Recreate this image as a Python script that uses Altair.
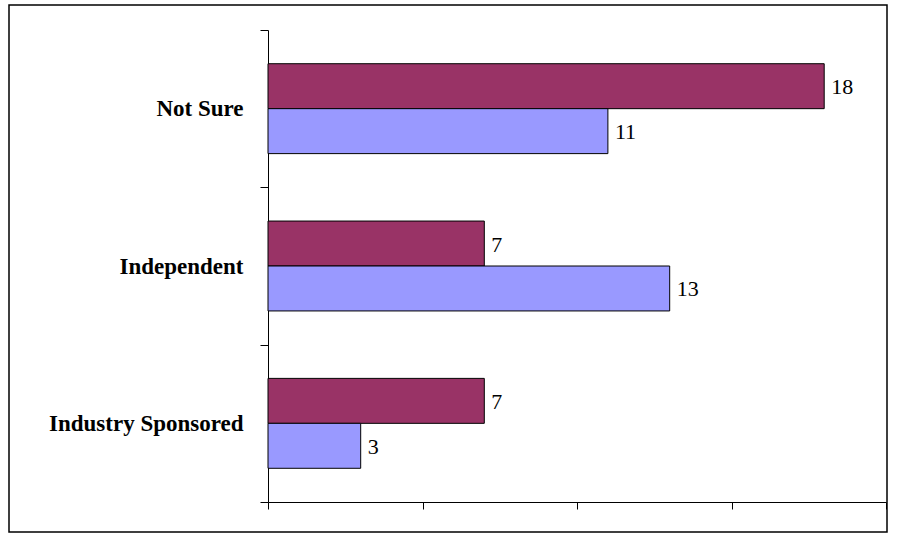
import altair as alt
import pandas as pd

# Response counts per source category, two groups per category
categories = ["Not Sure", "Independent\u00a0", "Industry Sponsored"]
series = ["Group 1", "Group 2"]
group1_counts = [18, 7, 7]
group2_counts = [11, 13, 3]
bar_colors = ["#993366", "#9999FF"]
x_ticks = [0, 5, 10, 15, 20]

rows = []
for cat, a, b in zip(categories, group1_counts, group2_counts):
    rows.append({"category": cat, "series": series[0], "count": a})
    rows.append({"category": cat, "series": series[1], "count": b})
df = pd.DataFrame(rows)

W, H = 618, 472
PAD = {"left": 268, "top": 30, "right": 11, "bottom": 32}
SERIF = "Liberation Serif"

base = alt.Chart(df).encode(
    y=alt.Y(
        "category:N",
        sort=categories,
        scale=alt.Scale(paddingInner=0, paddingOuter=0),
        axis=alt.Axis(
            title=None,
            tickBand="extent",
            tickSize=8,
            tickColor="black",
            domainColor="black",
            labelFont=SERIF,
            labelFontSize=23,
            labelFontWeight="bold",
            labelColor="black",
            labelPadding=17,
            labelLimit=0,
            grid=False,
        ),
    ),
    yOffset=alt.YOffset(
        "series:N",
        sort=series,
        scale=alt.Scale(paddingInner=0, paddingOuter=0.75),
    ),
)

bars = base.mark_bar(stroke="black", strokeWidth=1).encode(
    x=alt.X(
        "count:Q",
        scale=alt.Scale(domain=[0, 20], nice=False),
        axis=alt.Axis(
            values=x_ticks,
            labels=False,
            title=None,
            grid=False,
            tickSize=7,
            tickColor="black",
            domainColor="black",
        ),
    ),
    color=alt.Color(
        "series:N",
        scale=alt.Scale(domain=series, range=bar_colors),
        legend=None,
    ),
)

labels = base.mark_text(
    align="left", baseline="middle", dx=7, dy=1, font=SERIF, fontSize=22, color="black"
).encode(x="count:Q", text="count:Q")

# Outer frame around the whole figure
frame = alt.Chart(pd.DataFrame({"f": [0]})).mark_rect(
    filled=False, stroke="black", strokeWidth=1.5
).encode(
    x=alt.value(9 - PAD["left"]),
    x2=alt.value(887 - PAD["left"]),
    y=alt.value(5 - PAD["top"]),
    y2=alt.value(532 - PAD["top"]),
)

chart = (
    alt.layer(frame, bars, labels)
    .properties(width=W, height=H, padding=PAD, autosize="none", background="white")
    .configure_view(stroke=None)
)

chart.save("out.html", embed_options={"renderer": "svg", "actions": False})
